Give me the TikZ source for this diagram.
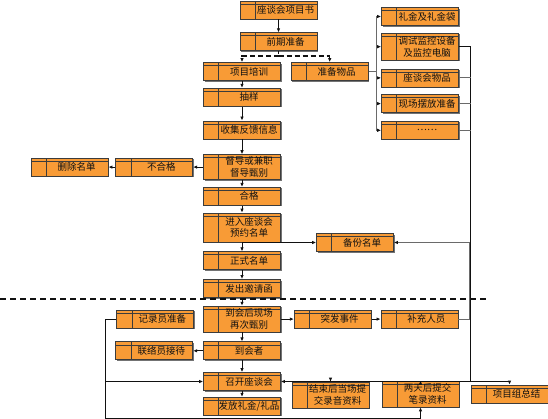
\documentclass[tikz,border=0pt]{standalone}
\usepackage{fontspec}
\setmainfont{Noto Sans CJK SC}
\usetikzlibrary{arrows.meta,positioning,calc,shadows}
\definecolor{cOrange}{HTML}{F89B36}
\definecolor{cEdge}{HTML}{3C3C3C}
\definecolor{cInk}{HTML}{111111}
\definecolor{cWire}{HTML}{6A6A6A}
\tikzset{
  tbox/.style={rectangle, draw=cEdge, line width=0.7pt, fill=cOrange,
    minimum width=77pt, minimum height=18pt, inner xsep=1pt, inner ysep=1pt,
    font=\fontsize{9.5}{11.5}\selectfont, text=cInk,
    drop shadow={shadow xshift=1.2pt, shadow yshift=-1.2pt, fill=black!55, opacity=1},
    path picture={
      \draw[cEdge, line width=0.5pt]
        ([yshift=-3pt]path picture bounding box.north west) --
        ([yshift=-3pt]path picture bounding box.north east);
      \draw[cEdge, line width=0.6pt]
        ([xshift=15pt]path picture bounding box.north west) --
        ([xshift=15pt]path picture bounding box.south west);},
    execute at begin node={\hspace*{14pt}\begin{minipage}{61pt}\centering},
    execute at end node={\end{minipage}}},
  tall/.style={tbox, minimum height=27pt},
}
\begin{document}
\begin{tikzpicture}[
  x=1pt, y=-1pt,
  flow/.style={-{Latex[length=4pt,width=3.5pt]}, line width=0.8pt, cInk},
  flowgray/.style={-{Latex[length=4pt,width=3.5pt,color=cInk]}, line width=0.8pt, cWire},
  wire/.style={line width=0.8pt, cInk},
  grayline/.style={line width=0.8pt, cWire},
  dashflow/.style={flow, line width=1.4pt, dash pattern=on 5pt off 3pt},
  cutline/.style={line width=1.6pt, dash pattern=on 6pt off 4pt, cInk},
]
\useasboundingbox (0,0) rectangle (548,419);
% preparation
\node[tbox] (proj) at (278.5,10) {座谈会项目书};
\node[tbox, below=13pt of proj] (prep) {前期准备};
\node[tbox] (train) at (242,71.5) {项目培训};
\node[tbox, right=10pt of train] (goods) {准备物品};
\node[tbox] (gift) at (420,16.5) {礼金及礼金袋};
\node[tall, below=7pt of gift] (monitor) {调试监控设备\\及监控电脑};
\node[tbox, below=8pt of monitor] (items) {座谈会物品};
\node[tbox, below=7pt of items] (setup) {现场摆放准备};
\node[tbox, below=8pt of setup] (etc) {……};
% recruiting
\node[tbox, below=7pt of train] (sample) {抽样};
\node[tbox, below=14pt of sample] (collect) {收集反馈信息};
\node[tall, minimum height=25pt, below=15pt of collect] (screen) {督导或兼职\\督导甄别};
\node[tbox, left=10pt of screen] (fail) {不合格};
\node[tbox, left=7pt of fail] (delete) {删除名单};
\node[tbox, below=7pt of screen] (pass) {合格};
\node[tall, minimum height=29pt, below=7pt of pass] (booking) {进入座谈会\\预约名单};
\node[tbox, below=9pt of booking] (formal) {正式名单};
\node[tbox, below=9pt of formal] (invite) {发出邀请函};
\node[tbox] (backup) at (355,242.5) {备份名单};
% on the day
\node[tall, minimum height=26pt, below=8pt of invite] (recheck) {到会后现场\\再次甄别};
\node[tbox, left=9pt of recheck] (recorder) {记录员准备};
\node[tbox, right=13pt of recheck] (incident) {突发事件};
\node[tbox, right=9pt of incident] (supplement) {补充人员};
\node[tbox, below=9pt of recheck] (attendee) {到会者};
\node[tbox, left=10pt of attendee] (liaison) {联络员接待};
\node[tbox, below=12pt of attendee] (meeting) {召开座谈会};
\node[tbox, below=6pt of meeting] (giftout) {发放礼金/礼品};
\node[tall, minimum height=26pt] (audio) at (330.5,395) {结束后当场提\\交录音资料};
\node[tall, minimum height=26pt] (notes) at (420.5,394) {两天后提交\\笔录资料};
\node[tbox] (summary) at (509.5,394) {项目组总结};
\coordinate (split) at ($(prep.south)+(0,5)$);
\coordinate (fork) at ($(goods.east)+(8,0)$);
\coordinate (trunk) at ($(monitor.east)+(12,0)$);
\coordinate (supturn) at ($(supplement.east)+(11,0)$);
\coordinate (rail) at ($(recorder.west)+(-11,0)$);
\coordinate (railend) at ($(notes.south)+(0,11)$);
% arrows
\draw[flow] (proj) -- (prep);
\draw[line width=1.4pt, cInk, dash pattern=on 3pt off 2pt] (prep.south) -- (split);
\draw[dashflow] (split) -| (train.north);
\draw[dashflow] (split) -| (goods.north);
\foreach \b in {gift,monitor,items,setup,etc}
  \draw[flowgray] (goods.east) -- (fork) |- (\b.west);
\draw[wire] (monitor.east) -| (trunk |- meeting.east);
\foreach \b in {items,setup,etc}
  \draw[grayline] (\b.east) -- (\b.east -| trunk);
\draw[flow] (train) -- (sample);
\draw[flow] (sample) -- (collect);
\draw[flow] (collect) -- (screen);
\draw[flow] (screen) -- (fail);
\draw[flow] (fail) -- (delete);
\draw[flow] (screen) -- (pass);
\draw[flow] (pass) -- (booking);
\draw[flow] (booking) -- (formal);
\draw[flow] (booking.south |- backup.west) -- (backup.west);
\draw[flow] (formal) -- (invite);
\draw[flow] (invite) -- (recheck);
\draw[flowgray] (supplement.east) -- (supturn) |- (backup.east);
\draw[flow] (recheck) -- (incident);
\draw[flow] (incident) -- (supplement);
\draw[flow] (recheck) -- (attendee);
\draw[flow] (attendee) -- (liaison);
\draw[flow] (attendee) -- (meeting);
\draw[flow] (meeting) -- (giftout);
\draw[flow] (trunk |- meeting.east) -- (meeting.east);
\draw[flow] (audio.north |- meeting.east) -- (audio.north);
\draw[flow] (notes.north |- meeting.east) -- (notes.north);
\draw[flow] (trunk |- meeting.east) -| (summary.north);
\draw[flow] (recorder.west) -| (rail |- railend) -| (notes.south);
\draw[flow] (rail |- meeting.west) -- (meeting.west);
% divider
\draw[cutline] (0,299) -- (487,299);
\end{tikzpicture}
\end{document}
